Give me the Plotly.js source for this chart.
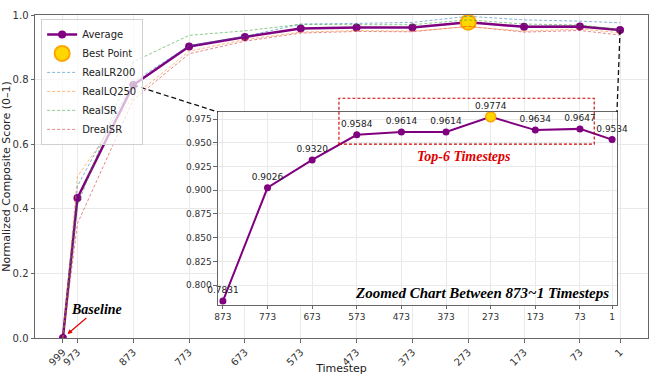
<!DOCTYPE html>
<html>
<head>
<meta charset="utf-8">
<script src="https://cdn.plot.ly/plotly-3.0.1.min.js"></script>
<style>
  html, body { margin: 0; padding: 0; background: #fff; }
  #chart { width: 655px; height: 375px; }
</style>
</head>
<body>
<div id="chart"></div>
<script>
// Sampling timesteps (descending, 999 = baseline)
const timesteps = [999, 973, 873, 773, 673, 573, 473, 373, 273, 173, 73, 1];

// Normalized composite score averaged over the four benchmarks
const average = [0.0, 0.4335, 0.7831, 0.9026, 0.9320, 0.9584, 0.9614, 0.9614, 0.9774, 0.9634, 0.9647, 0.9534];

// Per-benchmark normalized scores
const realLR200 = [0.0, 0.470, 0.793, 0.905, 0.934, 0.972, 0.974, 0.977, 0.996, 0.985, 0.981, 0.976];
const realLQ250 = [0.0, 0.500, 0.747, 0.888, 0.924, 0.947, 0.952, 0.950, 0.964, 0.950, 0.957, 0.945];
const realSR    = [0.0, 0.410, 0.855, 0.937, 0.951, 0.971, 0.970, 0.970, 0.985, 0.972, 0.969, 0.955];
const drealSR   = [0.0, 0.354, 0.737, 0.880, 0.919, 0.944, 0.949, 0.948, 0.965, 0.947, 0.952, 0.938];

// Tick labels
const mainXTicks = [999, 973, 873, 773, 673, 573, 473, 373, 273, 173, 73, 1];
const mainYTicks = [0.0, 0.2, 0.4, 0.6, 0.8, 1.0];
const zoomXTicks = [873, 773, 673, 573, 473, 373, 273, 173, 73, 1];
const zoomYTicks = [0.800, 0.825, 0.850, 0.875, 0.900, 0.925, 0.950, 0.975];

// Zoomed window starts at timestep 873
const zoomStart = timesteps.indexOf(873);
const zoomT = timesteps.slice(zoomStart);
const zoomAvg = average.slice(zoomStart);

// Best point
const bestIdx = average.indexOf(Math.max(...average));
const bestT = timesteps[bestIdx];
const bestV = average[bestIdx];

// Axis ranges and inset placement
const mainXRange = [1049, -49];
const mainYRange = [0, 1.0];
const zoomXRange = [884, -10];
const zoomYRange = [0.779, 0.9825];
const insetX = [0.2985, 0.9494];
const insetY = [0.1022, 0.6997];

const PURPLE = '#800080';
const GOLD = '#FFD700';
const ORANGE = '#FFA500';
const tickFont = { family: 'DejaVu Sans', size: 10, color: '#333' };

// helpers: data -> paper fraction
const frac = (v, r) => (v - r[0]) / (r[1] - r[0]);
const mainPX = v => frac(v, mainXRange);
const mainPY = v => frac(v, mainYRange);
const insetPX = v => insetX[0] + frac(v, zoomXRange) * (insetX[1] - insetX[0]);
const insetPY = v => insetY[0] + frac(v, zoomYRange) * (insetY[1] - insetY[0]);

function benchTrace(name, y, color) {
  return {
    x: timesteps, y: y, name: name, type: 'scatter', mode: 'lines',
    line: { color: color, width: 1, dash: '3px,2px' }, opacity: 0.55,
    xaxis: 'x', yaxis: 'y', hoverinfo: 'skip'
  };
}

const traces = [
  {
    x: timesteps, y: average, name: 'Average', type: 'scatter', mode: 'lines+markers',
    line: { color: PURPLE, width: 2.5 }, marker: { color: PURPLE, size: 8 },
    xaxis: 'x', yaxis: 'y'
  },
  {
    x: [bestT], y: [bestV], name: 'Best Point', type: 'scatter', mode: 'markers',
    marker: { color: GOLD, size: 15, line: { color: ORANGE, width: 2 } },
    xaxis: 'x', yaxis: 'y', cliponaxis: false
  },
  benchTrace('RealLR200', realLR200, '#1f77b4'),
  benchTrace('RealLQ250', realLQ250, '#ff7f0e'),
  benchTrace('RealSR', realSR, '#2ca02c'),
  benchTrace('DrealSR', drealSR, '#d62728'),
  // zoomed view
  {
    x: zoomT, y: zoomAvg, type: 'scatter', mode: 'lines+markers+text',
    line: { color: PURPLE, width: 2 }, marker: { color: PURPLE, size: 7 },
    texttemplate: '%{y:.4f}', textposition: 'top center', cliponaxis: false,
    textfont: { family: 'DejaVu Sans', size: 9, color: '#222' },
    xaxis: 'x2', yaxis: 'y2', showlegend: false
  },
  {
    x: [bestT], y: [bestV], type: 'scatter', mode: 'markers',
    marker: { color: GOLD, size: 10, line: { color: ORANGE, width: 1.5 } },
    xaxis: 'x2', yaxis: 'y2', showlegend: false, cliponaxis: false
  }
];

const axisStyle = {
  showline: true, linecolor: '#666', linewidth: 1, mirror: true,
  showgrid: true, gridcolor: '#e9e9e9', gridwidth: 1, zeroline: false,
  ticks: 'outside', ticklen: 3.5, tickcolor: '#666', tickfont: tickFont
};

const serifBI = (size, color) => ({
  family: 'Liberation Serif', size: size, color: color, weight: 'bold', style: 'italic'
});

const layout = {
  width: 655, height: 375,
  margin: { l: 35, r: 7, t: 15, b: 37 },
  paper_bgcolor: '#fff', plot_bgcolor: '#fff',
  showlegend: true,
  legend: {
    x: 0.01, y: 0.988, xanchor: 'left', yanchor: 'top',
    bgcolor: 'rgba(255,255,255,0.7)', bordercolor: '#d0d0d0', borderwidth: 1,
    font: { family: 'DejaVu Sans', size: 10, color: '#222' },
    itemwidth: 30, tracegroupgap: 0
  },
  xaxis: Object.assign({}, axisStyle, {
    domain: [0, 1], range: mainXRange, tickvals: mainXTicks,
    ticktext: mainXTicks.map(String), tickangle: -45,
    title: { text: 'Timestep', font: { family: 'DejaVu Sans', size: 11, color: '#222' }, standoff: 2 }
  }),
  yaxis: Object.assign({}, axisStyle, {
    domain: [0, 1], range: mainYRange, tickvals: mainYTicks,
    ticktext: mainYTicks.map(v => v.toFixed(1)),
    title: { text: 'Normalized Composite Score (0–1)', font: { family: 'DejaVu Sans', size: 11, color: '#222' }, standoff: 4 }
  }),
  xaxis2: Object.assign({}, axisStyle, {
    domain: insetX, range: zoomXRange, anchor: 'y2', tickvals: zoomXTicks,
    ticktext: zoomXTicks.map(String), tickfont: Object.assign({}, tickFont, { size: 9 })
  }),
  yaxis2: Object.assign({}, axisStyle, {
    domain: insetY, range: zoomYRange, anchor: 'x2', tickvals: zoomYTicks,
    ticktext: zoomYTicks.map(v => v.toFixed(3)), tickfont: Object.assign({}, tickFont, { size: 9 })
  }),
  shapes: [
    // connectors from the main curve to the inset corners
    {
      type: 'line', xref: 'paper', yref: 'paper', layer: 'above',
      x0: mainPX(zoomT[0]), y0: mainPY(zoomAvg[0]), x1: insetX[0], y1: insetY[1],
      line: { color: '#111', width: 1.3, dash: '5px,3px' }
    },
    {
      type: 'line', xref: 'paper', yref: 'paper', layer: 'above',
      x0: mainPX(zoomT[zoomT.length - 1]), y0: mainPY(zoomAvg[zoomAvg.length - 1]),
      x1: insetX[1], y1: insetY[1],
      line: { color: '#111', width: 1.3, dash: '5px,3px' }
    },
    // highlight of the six best timesteps
    {
      type: 'rect', xref: 'paper', yref: 'paper', layer: 'above',
      x0: insetPX(613), x1: insetPX(41), y0: insetPY(0.9486), y1: insetPY(0.997),
      line: { color: '#cc0000', width: 1.1, dash: '3px,2px' }, fillcolor: 'rgba(0,0,0,0)'
    }
  ],
  annotations: [
    {
      xref: 'x', yref: 'y', x: timesteps[0], y: average[0],
      text: 'Baseline', showarrow: true, arrowhead: 2, arrowsize: 0.8, arrowwidth: 1.2,
      arrowcolor: '#e00000', ax: 34, ay: -29, standoff: 6,
      font: serifBI(14, '#000')
    },
    {
      xref: 'x2', yref: 'y2', x: 333, y: 0.936, showarrow: false,
      text: 'Top-6 Timesteps', font: serifBI(14, '#e00000')
    },
    {
      xref: 'x2 domain', yref: 'y2 domain', x: 0.985, y: 0.062,
      xanchor: 'right', yanchor: 'middle', showarrow: false,
      text: 'Zoomed Chart Between 873~1 Timesteps', font: serifBI(15, '#000')
    }
  ]
};

Plotly.newPlot('chart', traces, layout, { displayModeBar: false, staticPlot: true });
</script>
</body>
</html>
